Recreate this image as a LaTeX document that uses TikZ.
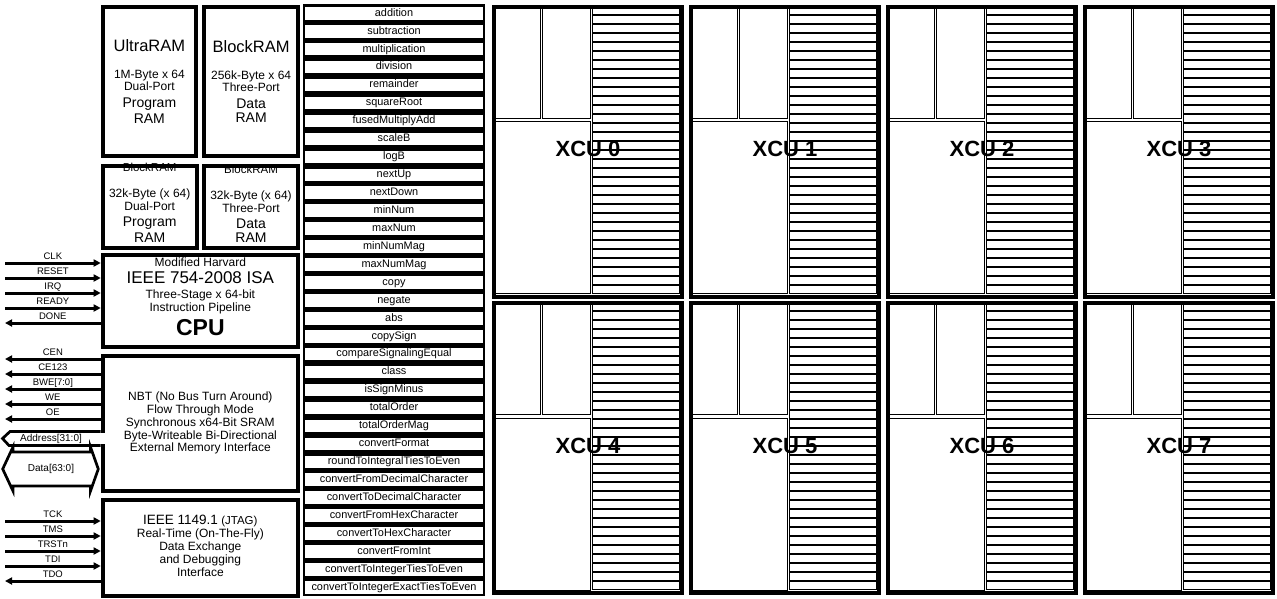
\documentclass[tikz,border=0pt]{standalone}
\usepackage{fontspec}
\setmainfont{Liberation Sans}
\usetikzlibrary{arrows.meta}
\newcommand\fsz[2]{\fontsize{#1}{#2}\selectfont}

\begin{document}
\begin{tikzpicture}[x=1pt,y=-1pt,
        blk/.style={draw, line width=4pt, inner sep=0pt, align=center, anchor=north west, font=\fsz{12}{12}},
        opbox/.style={draw, line width=2.7pt, inner sep=0pt, anchor=north, minimum width=180pt, minimum height=15.24pt,
            text height=7.9pt, text depth=2.3pt, font=\fsz{10.9}{12}},
        sig/.style={line width=3pt, -{Triangle[length=7pt,width=7pt]}},
        siglbl/.style={font=\fsz{9.5}{10}, anchor=base, yshift=3.6pt, inner sep=0pt},
        bus/.style={line width=2.7pt, line join=miter},
        buslbl/.style={font=\fsz{10}{10}, inner sep=0pt},
        xline/.style={line width=0.9pt},
        xcu/.style={draw, line width=4pt, inner sep=0pt, anchor=north west, minimum width=188pt, minimum height=290pt,
            text depth=5pt, font=\fsz{22}{24}\bfseries}
        ]
        \useasboundingbox (0,0) rectangle (1277,598);

        % memories
        \node[blk, minimum width=93.3pt, minimum height=148.4pt] (uram) at (100.7,5.3)
            {{\fsz{16.5}{12}UltraRAM}\\[15pt] 1M-Byte x 64\\ Dual-Port\\[4.7pt] {\fsz{14}{12}Program}\\[2pt] {\fsz{14}{12}RAM}};
        \node[blk, minimum width=93.7pt, minimum height=148.4pt] (bram) at (202.3,5.3)
            {{\fsz{16.5}{12}BlockRAM}\\[15pt] 256k-Byte x 64\\ Three-Port\\[4.7pt] {\fsz{14}{12}Data}\\[2pt] {\fsz{14}{12}RAM}};
        \node[blk, minimum width=94pt, minimum height=82pt, text height=74pt, text depth=4pt] (pram) at (100.7,164)
            {{\fsz{11.5}{12}BlockRAM}\\[14.2pt] 32k-Byte (x 64)\\[1pt] Dual-Port\\[3.7pt] {\fsz{14}{12}Program}\\[2pt]
             {\fsz{14}{12}RAM}};
        \node[blk, minimum width=94pt, minimum height=82pt, text height=74pt, text depth=4pt] (dram) at (202,164)
            {{\fsz{11.5}{12}BlockRAM}\\[14.2pt] 32k-Byte (x 64)\\[1pt] Three-Port\\[3.7pt] {\fsz{14}{12}Data}\\[2pt]
             {\fsz{14}{12}RAM}};

        % cpu, memory interface, jtag
        \node[blk, minimum width=195.3pt, minimum height=92pt, text depth=9pt] (cpu) at (100.7,253)
            {Modified Harvard\\[4.8pt] {\fsz{17}{12}IEEE 754-2008 ISA}\\[3.2pt] Three-Stage x 64-bit\\[1pt]
             Instruction Pipeline\\[3.9pt] {\fsz{23}{12}\bfseries CPU}};
        \node[blk, minimum width=195.3pt, minimum height=135.3pt, font=\fsz{12}{12.75}] (mem) at (100.7,353.7)
            {NBT (No Bus Turn Around)\\ Flow Through Mode\\ Synchronous x64-Bit SRAM\\
             Byte-Writeable Bi-Directional\\ External Memory Interface};
        \node[blk, minimum width=195.3pt, minimum height=96pt, font=\fsz{12}{13}] (jtag) at (100.7,497.7)
            {{\fsz{13.5}{13}IEEE 1149.1} {\fsz{11.5}{13}(JTAG)}\\ Real-Time (On-The-Fly)\\ Data Exchange\\
             and Debugging\\ Interface\\[-10pt]\mbox{}};

        % signals
        \foreach \y/\txt in {263/CLK,278/RESET,293/IRQ,308/READY}{
            \coordinate (in-\txt) at (5,\y);
            \draw[sig] (in-\txt) -- (in-\txt -| cpu.west) node[siglbl, midway] {\txt};
        }
        \coordinate (done) at (5,323);
        \draw[sig] (done -| cpu.west) -- (done) node[siglbl, midway] {DONE};

        \foreach \y/\txt [count=\i] in {359/CEN,374/CE123,389/{BWE[7:0]},404/WE,419/OE}{
            \coordinate (mo-\i) at (5,\y);
            \draw[sig] (mo-\i -| mem.west) -- (mo-\i) node[siglbl, midway] {\txt};
        }
        \foreach \y/\txt in {521/TCK,536/TMS,551/TRSTn,566/TDI}{
            \coordinate (in-\txt) at (5,\y);
            \draw[sig] (in-\txt) -- (in-\txt -| jtag.west) node[siglbl, midway] {\txt};
        }
        \coordinate (tdo) at (5,581);
        \draw[sig] (tdo -| jtag.west) -- (tdo) node[siglbl, midway] {TDO};

        % buses
        \fill[white] (97,433) rectangle (104.5,444);
        \draw[bus] (100.7,431.5) -- (10,431.5) -- (2.5,438.5) -- (9,445.5) -- (100.7,445.5);
        \node[buslbl] (addr) at (51,438.5) {Address[31:0]};
        \draw[bus] (2.7,469) -- (13,447) -- (13,452) -- (90.5,452) -- (90.5,447) -- (98.3,469)
            -- (90.5,491) -- (90.5,486) -- (13,486) -- (13,491) -- cycle;
        \node[buslbl] (data) at (51,469) {Data[63:0]};

        % operations
        \foreach \op [count=\k from 0] in {addition,subtraction,multiplication,division,remainder,squareRoot,
            fusedMultiplyAdd,scaleB,logB,nextUp,nextDown,minNum,maxNum,minNumMag,maxNumMag,copy,negate,abs,
            copySign,compareSignalingEqual,class,isSignMinus,totalOrder,totalOrderMag,convertFormat,
            roundToIntegralTiesToEven,convertFromDecimalCharacter,convertToDecimalCharacter,
            convertFromHexCharacter,convertToHexCharacter,convertFromInt,convertToIntegerTiesToEven,
            convertToIntegerExactTiesToEven}
            \node[opbox] (op\k) at (394,{4.35+17.94*\k}) {\op};

        % execution units
        \foreach \i in {0,...,7}{
            \pgfmathsetmacro\xo{490+197*mod(\i,4)}
            \pgfmathsetmacro\yo{\i<4 ? 2.7 : 299.3}
            \draw[xline] (\xo+3,\yo+3) rectangle (\xo+50,\yo+115.6);
            \draw[xline] (\xo+52.3,\yo+3) rectangle (\xo+100.3,\yo+115.6);
            \draw[xline] (\xo+3,\yo+119) rectangle (\xo+100.3,\yo+291);
            \foreach \k in {0,...,31}
                \draw[xline] (\xo+102.3,\yo+3.5+9*\k) rectangle (\xo+189,\yo+11.5+9*\k);
            \node[xcu] (xcu\i) at (\xo+2,\yo+2) {XCU \i};
        }
    \end{tikzpicture}
\end{document}
